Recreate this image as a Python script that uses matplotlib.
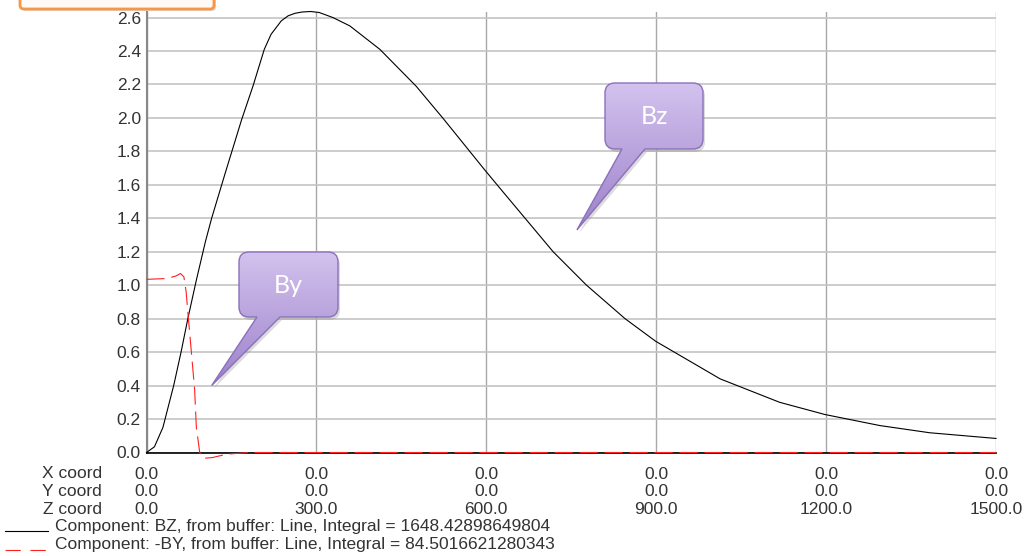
import numpy as np
import matplotlib
matplotlib.use("Agg")
import matplotlib.pyplot as plt
from matplotlib.path import Path
from matplotlib.patches import PathPatch, FancyBboxPatch
from matplotlib.lines import Line2D

W, H = 1029, 556

# Bz along the line (z in mm)
bz_z = [0, 14, 29, 48, 61, 73, 88, 104, 115, 139, 168, 188, 208, 220, 238, 250,
        262, 275, 290, 305, 329, 359, 412, 476, 523, 597, 624, 718, 777, 845,
        899, 1013, 1118, 1198, 1295, 1383, 1500]
bz_v = [0.0, 0.034, 0.15, 0.40, 0.60, 0.80, 1.03, 1.26, 1.40, 1.67, 1.99, 2.19,
        2.41, 2.50, 2.58, 2.61, 2.625, 2.633, 2.636, 2.63, 2.60, 2.55, 2.41,
        2.19, 2.00, 1.69, 1.58, 1.20, 1.00, 0.80, 0.665, 0.44, 0.30, 0.227,
        0.161, 0.118, 0.084]

# -By along the line
by_z = [0, 36, 52, 60, 66, 70, 74, 79, 85, 88, 94, 100, 117, 141, 182, 1500]
by_v = [1.035, 1.04, 1.055, 1.07, 1.05, 0.96, 0.80, 0.61, 0.375, 0.15, 0.0,
        -0.035, -0.03, -0.01, 0.0, 0.0]

z_ticks = [0.0, 300.0, 600.0, 900.0, 1200.0, 1500.0]
x_coord = [0.0, 0.0, 0.0, 0.0, 0.0, 0.0]
y_coord = [0.0, 0.0, 0.0, 0.0, 0.0, 0.0]
y_ticks = [0.0, 0.2, 0.4, 0.6, 0.8, 1.0, 1.2, 1.4, 1.6, 1.8, 2.0, 2.2, 2.4, 2.6]

legend_labels = ["Component: BZ, from buffer: Line, Integral = 1648.42898649804",
                 "Component: -BY, from buffer: Line, Integral = 84.5016621280343"]

plt.rcParams["font.family"] = ["Liberation Sans", "DejaVu Sans"]
plt.rcParams["lines.scale_dashes"] = False
FS = 12.5
LS = 1.22
TXT = "#333333"

fig = plt.figure(figsize=(W / 100, H / 100), dpi=100)
ax = fig.add_axes([146.5 / W, 1 - 452.5 / H, (996 - 146.5) / W, (452.5 - 12) / H])
ax.set_xlim(0, 1500)
ax.set_ylim(0, 2.633)

ax.plot(bz_z, bz_v, color="black", lw=0.8, clip_on=False, zorder=3)
ax.plot(by_z, by_v, color="#ff2020", lw=0.8, dashes=(13, 5), clip_on=False, zorder=4)

ax.set_yticks(y_ticks, labels=["%.1f" % v for v in y_ticks])
ax.set_xticks(z_ticks, labels=["%.1f\n%.1f\n%.1f" % (a, b, c)
                               for a, b, c in zip(x_coord, y_coord, z_ticks)])
ax.tick_params(length=0, labelsize=FS, labelcolor=TXT)
ax.tick_params(axis="y", pad=4)
ax.tick_params(axis="x", pad=10.5)

ax.grid(axis="y", color="#c4c4c4", lw=1.2)
ax.grid(axis="x", color="#a8a8a8", lw=1.0)
ax.set_axisbelow(True)
for s in ["top", "right"]:
    ax.spines[s].set_visible(False)
ax.spines["left"].set_color("#888888")
ax.spines["left"].set_linewidth(1.5)
ax.spines["bottom"].set_color("black")
ax.spines["bottom"].set_linewidth(1.2)
ax.spines["bottom"].set_zorder(2.5)

# overlay in pixel coordinates (y down)
ov = fig.add_axes([0, 0, 1, 1], zorder=5)
ov.set_xlim(0, W)
ov.set_ylim(H, 0)
ov.axis("off")
ov.patch.set_alpha(0)

ov.text(102, 466.5, "X coord\nY coord\nZ coord", ha="right", va="top",
        fontsize=FS, color=TXT, linespacing=LS)
ov.text(55, 526, legend_labels[0], ha="left", va="center", fontsize=FS, color=TXT)
ov.text(55, 545, legend_labels[1], ha="left", va="center", fontsize=FS, color=TXT)
ov.add_line(Line2D([5, 48], [531, 531], color="black", lw=0.8))
ov.add_line(Line2D([5, 48], [550, 550], color="#ff2020", lw=0.8, dashes=(11, 7)))

# orange box cut at the top
ov.add_patch(FancyBboxPatch((22, -20), 194, 31, boxstyle="round,pad=0,rounding_size=4",
                            facecolor="#999999", edgecolor="none", alpha=0.35))
ov.add_patch(FancyBboxPatch((20, -20), 194, 29, boxstyle="round,pad=0,rounding_size=4",
                            facecolor="#fffaf5", edgecolor="#f79646", lw=2))


def callout(tip_data, box, base, label):
    tx, ty = ax.transData.transform(tip_data)
    ty = H - ty
    x0, y0, x1, y1 = box
    r = 10
    verts = [(x0 + r, y0), (x1 - r, y0), (x1, y0), (x1, y0 + r), (x1, y1 - r),
             (x1, y1), (x1 - r, y1), (base[1], y1), (tx, ty), (base[0], y1),
             (x0 + r, y1), (x0, y1), (x0, y1 - r), (x0, y0 + r), (x0, y0),
             (x0 + r, y0), (x0 + r, y0)]
    codes = [Path.MOVETO, Path.LINETO, Path.CURVE3, Path.CURVE3, Path.LINETO,
             Path.CURVE3, Path.CURVE3, Path.LINETO, Path.LINETO, Path.LINETO,
             Path.LINETO, Path.CURVE3, Path.CURVE3, Path.LINETO, Path.CURVE3,
             Path.CURVE3, Path.CLOSEPOLY]
    path = Path(verts, codes)
    shadow = Path([(vx + 2, vy + 3) for vx, vy in verts], codes)
    ov.add_patch(PathPatch(shadow, facecolor="#888888", edgecolor="none",
                           alpha=0.3, zorder=1))
    clip = PathPatch(path, facecolor="none", edgecolor="none", zorder=1)
    ov.add_patch(clip)
    top = np.array(matplotlib.colors.to_rgb("#d3c2ee"))
    bot = np.array(matplotlib.colors.to_rgb("#9d82ca"))
    t = np.linspace(0, 1, 256)[:, None, None]
    grad = top + (bot - top) * t
    grad = np.repeat(grad, 2, axis=1)
    im = ov.imshow(grad, extent=(min(x0, tx), max(x1, tx), max(y1, ty), y0),
                   origin="upper", aspect="auto", interpolation="bilinear", zorder=2)
    im.set_clip_path(clip)
    ov.add_patch(PathPatch(path, facecolor="none", edgecolor="#8b70bb", lw=1.0, zorder=3))
    ov.text((x0 + x1) / 2, (y0 + y1) / 2 + 1, label, ha="center", va="center",
            color="white", fontsize=18, family=["Lato", "DejaVu Sans"], zorder=4)


callout((760, 1.33), (605, 83, 703, 149), (622, 645), "Bz")
callout((115, 0.40), (239, 252, 338, 317), (257, 280), "By")
ov.set_xlim(0, W)
ov.set_ylim(H, 0)

fig.savefig("out.png", dpi=100)
